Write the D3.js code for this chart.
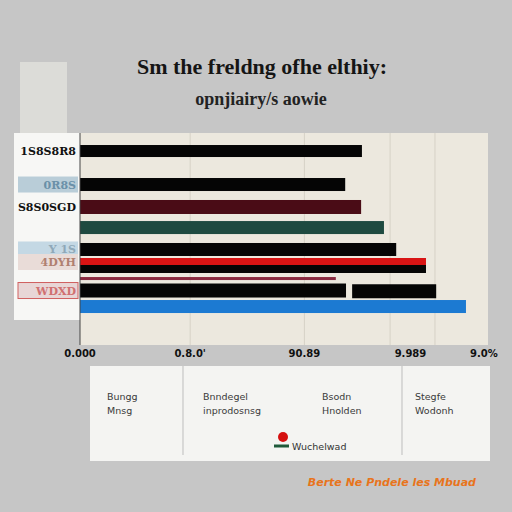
<!DOCTYPE html>
<html><head><meta charset="utf-8">
<script src="https://cdn.jsdelivr.net/npm/d3@7"></script>
<style>html,body{margin:0;padding:0;background:#c6c6c6;}svg{display:block;}</style>
</head><body><svg id="c" width="512" height="512"></svg>
<script>
// ---- data ----
const title = "Sm the freldng ofhe elthiy:";
const subtitle = "opnjiairy/s aowie";
const categories = ["1S8S8R8","0R8S","S8S0SGD","G","Y 1S","4DYH","R","P","WDXD","B"];
const rowPos     = [1.7, 4.86, 6.98, 8.92, 10.99, 12.17, 12.83, 13.73, 14.86, 16.37];
const startVals  = [0, 0, 0, 0, 0, 0, 0, 0, 0, 0];
const endVals    = [69.1, 65.0, 68.9, 74.5, 77.5, 84.8, 84.8, 62.7, 65.2, 94.6];
const extraStart = [66.7];
const extraEnd   = [87.3];
const extraRow   = [14.93];
const tickVals   = [0, 27, 55, 81, 99];
const tickLabels = ["0.000", "0.8.0'", "90.89", "9.989", "9.0%"];
const gridVals   = [27, 55, 76, 87];
const legendCols = [["Bungg","Mnsg"],["Bnndegel","inprodosnsg"],["Bsodn","Hnolden"],["Stegfe","Wodonh"]];
const legendKey  = "Wuchelwad";
const footer     = "Berte Ne Pndele les Mbuad";

// ---- styles ----
const barColors  = ["#050505","#050505","#4a0c16","#1e4a40","#050505","#d81414","#050505","#8a2a40","#050505","#1c7ad2"];
const barHeights = [12,13,14,13,13,8,8,3,14,13];

const svg = d3.select("#c");
const M = {left:80, right:488, top:133, bottom:345};
const x = d3.scaleLinear().domain([0,100]).range([M.left, M.right]);
const y = d3.scaleLinear().domain([0,20]).range([M.top, M.bottom]);

// top light strip
svg.append("rect").attr("x",20).attr("y",62).attr("width",47).attr("height",72).attr("fill","#dcdcd8");

// plot background
svg.append("rect").attr("x",M.left).attr("y",M.top).attr("width",M.right-M.left).attr("height",M.bottom-M.top).attr("fill","#ece8de");

// gridlines
svg.append("g").selectAll("line").data(gridVals).join("line")
  .attr("x1",d=>x(d)).attr("x2",d=>x(d)).attr("y1",M.top).attr("y2",M.bottom)
  .attr("stroke","#d6d2c6").attr("stroke-width",1);

// bars
svg.append("g").selectAll("rect").data(categories).join("rect")
  .attr("x",(d,i)=>x(startVals[i]))
  .attr("width",(d,i)=>x(endVals[i])-x(startVals[i]))
  .attr("y",(d,i)=>y(rowPos[i])-barHeights[i]/2)
  .attr("height",(d,i)=>barHeights[i])
  .attr("fill",(d,i)=>barColors[i]);
svg.append("g").selectAll("rect").data(extraStart).join("rect")
  .attr("x",(d)=>x(d)).attr("width",(d,i)=>x(extraEnd[i])-x(d))
  .attr("y",(d,i)=>y(extraRow[i])-7).attr("height",14).attr("fill","#050505");

// left label panel
svg.append("rect").attr("x",14).attr("y",M.top).attr("width",M.left-14).attr("height",187).attr("fill","#f7f7f5");
const boxFill = [null,"#b9cdd8",null,null,"#c4d8e4","#e9dcd8",null,null,"#e8d6d6",null];
const boxStroke=[null,null,null,null,null,null,null,null,"#d06060",null];
const txtFill = ["#111","#6a90a8","#111","#111","#8fa8b8","#b08070","#111","#111","#d07070","#111"];
const showLbl = [true,true,true,false,true,true,false,false,true,false];
const lbl = svg.append("g");
categories.forEach((c,i)=>{
  if(!showLbl[i]) return;
  if(boxFill[i]) lbl.append("rect").attr("x",18).attr("y",y(rowPos[i])-8).attr("width",60).attr("height",16)
     .attr("fill",boxFill[i]).attr("stroke",boxStroke[i]||"none");
  lbl.append("text").attr("x",76).attr("y",y(rowPos[i])+4).attr("text-anchor","end")
     .attr("font-family","DejaVu Serif").attr("font-size",11).attr("font-weight","bold")
     .attr("fill",txtFill[i]).text(c);
});
svg.append("line").attr("x1",M.left).attr("x2",M.left).attr("y1",M.top).attr("y2",M.bottom).attr("stroke","#444").attr("stroke-width",1);

// x axis labels
svg.append("g").selectAll("text").data(tickVals).join("text")
  .attr("x",d=>x(d)).attr("y",357).attr("text-anchor","middle")
  .attr("font-family","DejaVu Sans").attr("font-size",10).attr("font-weight","bold").attr("fill","#111")
  .text((d,i)=>tickLabels[i]);

// titles
svg.append("text").attr("x",262).attr("y",74).attr("text-anchor","middle")
  .attr("font-family","Liberation Serif").attr("font-weight","bold").attr("font-size",22).attr("fill","#151515").text(title);
svg.append("text").attr("x",261).attr("y",105).attr("text-anchor","middle")
  .attr("font-family","Liberation Serif").attr("font-weight","bold").attr("font-size",18).attr("fill","#222").text(subtitle);

// legend panel
svg.append("rect").attr("x",90).attr("y",366).attr("width",400).attr("height",95).attr("fill","#f4f4f2");
[183,402].forEach(v=>svg.append("line").attr("x1",v).attr("x2",v).attr("y1",366).attr("y2",455).attr("stroke","#bdbdbd"));
const colX = [107,203,322,415];
legendCols.forEach((lines,i)=>{
  lines.forEach((t,j)=>svg.append("text").attr("x",colX[i]).attr("y",400+j*14)
    .attr("font-family","DejaVu Sans").attr("font-size",9.5).attr("fill","#3a3a3a").text(t));
});
svg.append("circle").attr("cx",283).attr("cy",437).attr("r",5).attr("fill","#d51010");
svg.append("line").attr("x1",274).attr("x2",289).attr("y1",446).attr("y2",446).attr("stroke","#1f5a3a").attr("stroke-width",3);
svg.append("text").attr("x",292).attr("y",450).attr("font-family","DejaVu Sans").attr("font-size",9.5).attr("fill","#333").text(legendKey);

// footer
svg.append("text").attr("x",476).attr("y",486).attr("text-anchor","end")
  .attr("font-family","DejaVu Sans").attr("font-style","italic").attr("font-weight","bold").attr("font-size",11).attr("fill","#e8741c").text(footer);
</script></body></html>
